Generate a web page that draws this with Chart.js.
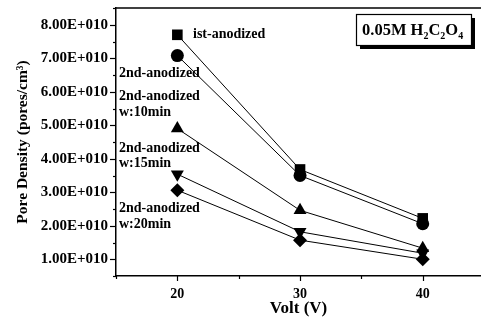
<!DOCTYPE html>
<html>
<head>
<meta charset="utf-8">
<script src="https://cdn.jsdelivr.net/npm/chart.js@4"></script>
<style>
  html, body { margin: 0; padding: 0; background: #fff; }
  #wrap { width: 481px; height: 323px; }
</style>
</head>
<body>
<div id="wrap"><canvas id="grafica"></canvas></div>
<script>
// datos
const voltajes = [20, 30, 40];
const primerAnodizado = [7.70e10, 3.68e10, 2.22e10];
const segundoAnodizado = [7.08e10, 3.50e10, 2.06e10];
const segundo10min = [4.90e10, 2.46e10, 1.33e10];
const segundo15min = [3.54e10, 1.82e10, 1.18e10];
const segundo20min = [3.06e10, 1.57e10, 1.00e10];
const marcasX = [20, 30, 40];
const etiquetas = ['ist-anodized', '2nd-anodized', '2nd-anodized', 'w:10min', '2nd-anodized', 'w:15min', '2nd-anodized', 'w:20min'];

const fuente = '"Liberation Serif", "Times New Roman", serif';

function serie(valores, estilo, radio, rot) {
  return {
    data: valores.map((v, i) => ({ x: voltajes[i], y: v })),
    borderColor: '#000',
    backgroundColor: '#000',
    borderWidth: 1,
    pointStyle: estilo,
    pointRadius: radio,
    pointRotation: rot || 0,
    pointBorderWidth: 0,
    tension: 0,
    clip: false
  };
}

// ticks, borde superior, textos y recuadro
const extras = {
  id: 'extras',
  afterDraw(chart) {
    const ctx = chart.ctx;
    const a = chart.chartArea;
    const sx = chart.scales.x, sy = chart.scales.y;
    ctx.save();
    ctx.strokeStyle = '#000';
    ctx.lineWidth = 1.5;
    ctx.beginPath();
    ctx.moveTo(a.left, a.top);
    ctx.lineTo(a.right, a.top);
    ctx.stroke();
    ctx.lineWidth = 1.2;
    sy.ticks.forEach(t => {
      const y = Math.round(sy.getPixelForValue(t.value)) + 0.5;
      const mayor = Math.round(t.value / 5e9) % 2 === 0;
      ctx.beginPath();
      ctx.moveTo(a.left - (mayor ? 6 : 3), y);
      ctx.lineTo(a.left, y);
      ctx.stroke();
    });
    sx.ticks.forEach(t => {
      const x = Math.round(sx.getPixelForValue(t.value)) + 0.5;
      const mayor = t.value % 10 === 0;
      ctx.beginPath();
      ctx.moveTo(x, a.bottom);
      ctx.lineTo(x, a.bottom + (mayor ? 5 : 3));
      ctx.stroke();
    });

    ctx.fillStyle = '#000';
    ctx.font = 'bold 14px ' + fuente;
    ctx.textBaseline = 'middle';
    ctx.textAlign = 'left';
    ctx.fillText(etiquetas[0], 193, 34);
    const ys = [73, 96, 112, 148, 163, 208, 224];
    for (let i = 1; i < etiquetas.length; i++) {
      ctx.fillText(etiquetas[i], 119, ys[i - 1]);
    }

    // recuadro con sombra
    const bx = 356, by = 14, bw = 115, bh = 31;
    ctx.fillRect(bx + 4, by + 4, bw, bh);
    ctx.fillStyle = '#fff';
    ctx.fillRect(bx, by, bw, bh);
    ctx.lineWidth = 1.2;
    ctx.strokeRect(bx + 0.5, by + 0.5, bw, bh);
    ctx.fillStyle = '#000';
    let px = bx + 6;
    const base = by + 21;
    const partes = [['0.05M H', false], ['2', true], ['C', false], ['2', true], ['O', false], ['4', true]];
    partes.forEach(([txt, sub]) => {
      ctx.font = sub ? 'bold 10px ' + fuente : 'bold 16.5px ' + fuente;
      ctx.textBaseline = 'alphabetic';
      ctx.fillText(txt, px, sub ? base + 4 : base);
      px += ctx.measureText(txt).width;
    });
    ctx.restore();
  }
};

const ctx = document.getElementById('grafica').getContext('2d');
new Chart(ctx, {
  type: 'line',
  data: {
    datasets: [
      serie(primerAnodizado, 'rect', 7.5),
      serie(segundoAnodizado, 'circle', 6.5),
      serie(segundo10min, 'triangle', 7.5),
      serie(segundo15min, 'triangle', 7.5, 180),
      serie(segundo20min, 'rectRot', 7)
    ]
  },
  options: {
    responsive: true,
    maintainAspectRatio: false,
    animation: false,
    layout: { autoPadding: false, padding: { top: 8, right: 0, left: 0, bottom: 0 } },
    plugins: { legend: { display: false }, tooltip: { enabled: false } },
    scales: {
      x: {
        type: 'linear',
        min: 15,
        max: 44.75,
        afterFit: s => { s.height = 47; s.paddingLeft = 0; s.paddingRight = 0; },
        afterBuildTicks: s => {
          s.ticks = [15, 20, 25, 30, 35, 40].map(v => ({ value: v }));
        },
        grid: { display: false, drawTicks: false },
        border: { display: true, color: '#000', width: 1.5 },
        ticks: {
          color: '#000',
          padding: 10,
          maxRotation: 0,
          autoSkip: false,
          font: { family: fuente, size: 14, weight: 'bold' },
          callback: v => (marcasX.includes(v) ? String(v) : '')
        },
        title: {
          display: true,
          text: 'Volt (V)',
          color: '#000',
          padding: { top: 0, bottom: 4 },
          font: { family: fuente, size: 17, weight: 'bold' }
        }
      },
      y: {
        min: 5e9,
        max: 8.5e10,
        afterFit: s => { s.width = 116; s.paddingTop = 0; s.paddingBottom = 0; },
        grid: { display: false, drawTicks: false },
        border: { display: true, color: '#000', width: 1.5 },
        ticks: {
          stepSize: 5e9,
          color: '#000',
          padding: 8,
          autoSkip: false,
          font: { family: fuente, size: 15, weight: 'bold' },
          callback: v => {
            const n = Math.round(v / 5e9);
            if (n % 2 !== 0 || n === 0) return '';
            return (n / 2).toFixed(2) + 'E+010';
          }
        },
        title: {
          display: true,
          text: 'Pore Density (pores/cm\u00B3)',
          color: '#000',
          padding: { top: 14, bottom: 0 },
          font: { family: fuente, size: 15.5, weight: 'bold' }
        }
      }
    }
  },
  plugins: [extras]
});
</script>
</body>
</html>
